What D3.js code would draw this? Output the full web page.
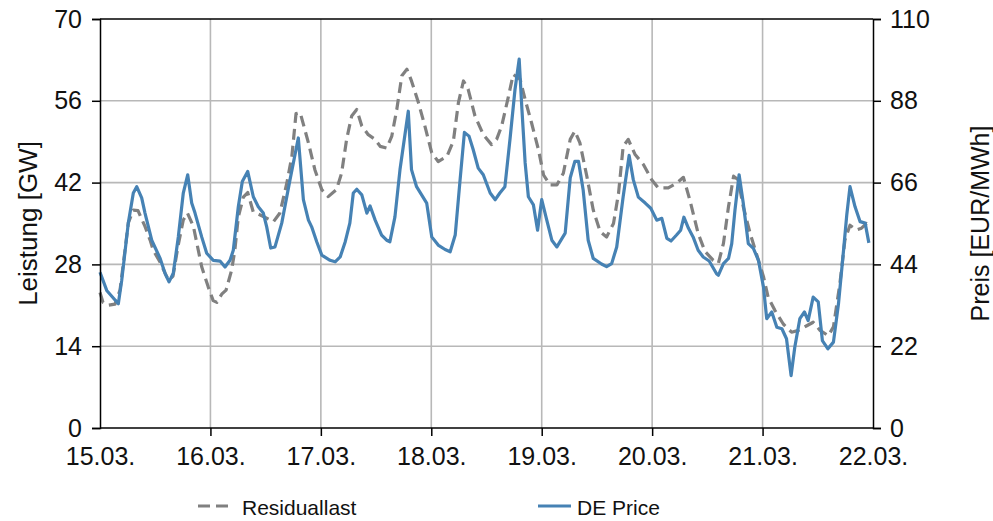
<!DOCTYPE html>
<html><head><meta charset="utf-8">
<script src="https://cdn.jsdelivr.net/npm/d3@7"></script>
<style>body{margin:0;background:#fff}svg{display:block}text{font-family:"Liberation Sans",Arial,sans-serif;fill:#111}</style>
</head><body>
<svg id="c" width="993" height="521"></svg>
<script>
// hours since 15.03. 00:00
const resHours = [0,0.65,1.8,3.26,4.35,5.43,6.15,7.24,8.26,9.78,10.87,11.59,13.04,14.5,15,15.87,16.95,18.1,19,20.3,22.1,23.5,24.6,25.4,26.45,27.4,28.6,29.3,30.06,31.15,32.1,33.3,35.5,37.7,39.1,40.6,41.7,42.6,43.5,45.3,46.7,48.2,49.6,51.4,52.5,53.6,54.7,55.8,56.9,58.3,59.8,60.9,62.3,63.4,64.5,65.6,66.7,67.7,69.2,70.6,72.1,73.5,75.4,76.8,77.9,79,80,81.5,83.3,85.1,86.2,87.3,88.7,89.8,91.3,92.4,93.8,95.3,96.4,97.8,99.3,100.7,102.2,103.2,104.3,105.8,107.2,108.7,110.1,111.6,112.7,113.7,114.8,116.3,118.1,119.9,121.3,123.5,125.3,126.8,128.2,130,131.5,133.3,134.4,135.5,136.6,137.7,138.7,139.8,141.3,143.1,144.2,145.2,146.7,148.5,150.3,151.8,153.6,155,156.5,158.3,159.4,160.8,161.9,163,164.4,165.5,166.6,167.4];
const residuallast = [23.2,21.5,21.0,21.2,23.6,30.4,35.1,37.3,37.2,34.5,32.2,30.4,28.4,25.9,25.3,26.0,31.1,35.6,36.8,34.5,27.6,24.2,21.8,21.5,22.9,23.6,27.0,30.4,36.1,39.5,40.3,37.0,36.2,35.3,36.8,41.9,46.5,53.8,54.0,48.8,44.2,40.8,39.6,40.8,43.6,49.4,53.4,54.5,51.7,50.2,49.4,48.2,47.9,49.9,54.5,60.3,61.4,59.4,55.7,51.7,47.1,45.6,46.5,49.1,55.7,59.4,58.0,53.4,50.2,48.5,49.4,51.7,56.5,60.5,59.7,56.2,52.2,47.6,43.3,41.6,41.6,43.6,49.4,50.8,48.8,43.1,37.3,33.6,32.7,35.0,40.2,48.2,49.4,46.8,45.1,42.5,41.1,41.1,41.9,42.9,39.0,33.3,30.2,28.7,28.2,31.6,37.9,43.1,42.5,37.9,33.3,28.7,25.9,22.4,20.1,17.8,16.4,16.7,17.5,18.1,16.7,15.8,17.3,24.7,32.2,34.7,33.9,34.2,35.0,34.5];
const priceHours = [0,1.46,3.98,4.72,6.15,7.24,7.98,9.06,9.78,11.24,13.04,14.13,15,15.93,17.02,18.1,19.06,19.93,20.65,22.1,23.19,24.62,26.08,27.17,28.26,28.97,30.06,30.93,32.1,33.32,34.4,35.49,36.23,37.1,38.03,39.5,41.3,43.1,44.2,45.3,46,47.1,48.2,50,51.1,52.2,53.3,54.3,55.05,55.8,56.9,58,58.7,59.8,61.2,62.3,63,64.1,65.2,67,67.7,68.8,69.9,71,72.1,73.5,75,76.1,77.2,78.2,79.2,80.2,81.1,82.2,83.3,84.8,85.9,86.9,88,89.1,90.2,91.1,91.7,92.4,93.1,94.2,95.1,96,97.1,98.2,99.3,101.1,102.2,103.2,104,105,106.1,107.2,109,110.1,111.2,112.3,113.7,115,115.9,117,118.5,119.7,121,122.1,123.2,124.1,125.3,126.2,126.9,127.9,128.9,130,131.1,132.4,134,134.4,135.5,136.6,137.3,138,138.9,139.8,140.9,142,143.1,144.2,144.9,146,147.1,148.2,149.2,150.2,151,152.1,153.1,153.9,155,156.1,157,158.2,159.4,160.5,161.6,162.3,163,164.1,165.2,166.3,167.1];
const dePrice = [41.9,37.0,33.4,39.7,55.1,63.2,64.9,61.9,57.8,50.5,45.7,41.6,39.3,41.6,51.4,63.2,68.1,60.5,57.8,51.4,47.0,45.1,44.9,43.3,45.1,47.8,59.5,66.3,69.0,62.2,59.5,57.8,54.1,48.4,48.7,55.1,66.8,78.0,61.4,55.9,54.1,50.1,46.5,45.1,44.7,46.0,50.1,55.1,63.2,64.2,62.7,57.8,59.7,55.9,51.9,50.5,50.1,56.8,69.5,85.2,69.5,64.9,62.7,60.5,51.4,49.2,48.0,47.4,51.9,65.9,79.5,78.5,74.9,69.9,68.1,63.2,61.4,63.2,64.9,77.6,91.1,99.2,85.7,71.3,62.2,60.0,53.2,61.4,55.9,50.5,48.7,52.4,67.3,71.7,71.7,64.1,50.5,45.6,44.1,43.4,44.2,48.7,62.2,73.3,66.8,62.1,60.5,59.1,55.9,56.4,51.0,50.3,51.9,53.2,56.7,53.7,51.4,47.8,46.0,44.9,41.5,41.1,44.2,45.6,49.6,58.6,68.1,60.5,49.6,48.3,45.1,37.9,29.4,31.2,27.1,26.7,24.0,14.1,21.7,29.4,31.2,28.9,35.2,33.9,23.5,21.3,23.1,33.4,47.8,57.3,64.9,59.5,55.5,55.1,49.8];
const dayLabels = ["15.03.","16.03.","17.03.","18.03.","19.03.","20.03.","21.03.","22.03."];
const leftTicks = [0,14,28,42,56,70];
const rightTicks = [0,22,44,66,88,110];

const L=100, R=873, T=19, B=428;
const svg = d3.select("#c");
const x = d3.scaleLinear().domain([0,168]).range([L,R]);
const yL = d3.scaleLinear().domain([0,70]).range([B,T]);
const yR = d3.scaleLinear().domain([0,110]).range([B,T]);

// grid
const g = svg.append("g");
g.selectAll("line.h").data(leftTicks.slice(1,5)).join("line")
 .attr("x1",L).attr("x2",R).attr("y1",d=>yL(d)).attr("y2",d=>yL(d))
 .attr("stroke","#b8b8b8").attr("stroke-width",1.6);
g.selectAll("line.v").data(dayLabels.slice(1,7)).join("line")
 .attr("x1",(d,i)=>x((i+1)*24)).attr("x2",(d,i)=>x((i+1)*24)).attr("y1",T).attr("y2",B)
 .attr("stroke","#b8b8b8").attr("stroke-width",1.6);

// lines
svg.append("path").datum(resHours.map((h,i)=>[h,residuallast[i]]))
 .attr("fill","none").attr("stroke","#808080").attr("stroke-width",3.2)
 .attr("stroke-dasharray","11,6").attr("stroke-linejoin","round")
 .attr("d",d3.line().x(d=>x(d[0])).y(d=>yL(d[1])));
svg.append("path").datum(priceHours.map((h,i)=>[h,dePrice[i]]))
 .attr("fill","none").attr("stroke","#4682b4").attr("stroke-width",3.2).attr("stroke-linejoin","round")
 .attr("d",d3.line().x(d=>x(d[0])).y(d=>yR(d[1])));

// axes
const fs = "25px";
const ax = svg.append("g").attr("transform",`translate(${L},0)`)
 .call(d3.axisLeft(yL).tickValues(leftTicks).tickSize(8).tickPadding(10));
const ar = svg.append("g").attr("transform",`translate(${R},0)`)
 .call(d3.axisRight(yR).tickValues(rightTicks).tickSize(8).tickPadding(9));
const ab = svg.append("g").attr("transform",`translate(0,${B})`)
 .call(d3.axisBottom(x).tickValues(d3.range(0,169,24)).tickFormat((d,i)=>dayLabels[i]).tickSize(8).tickPadding(11));
[ax,ar,ab].forEach(a=>{
  a.select(".domain").attr("stroke","#000").attr("stroke-width",1.5);
  a.selectAll(".tick line").attr("stroke","#000").attr("stroke-width",1.5);
  a.selectAll("text").style("font-size",fs).attr("fill","#111");
});
ab.select(".domain").attr("d",`M${L},0H${R}`);
ab.selectAll(".tick line").filter((d,i)=>i===0||i===7).remove();
svg.append("line").attr("x1",L).attr("x2",R).attr("y1",T).attr("y2",T).attr("stroke","#000").attr("stroke-width",1.5);

svg.append("text").attr("transform",`translate(37,${(T+B)/2}) rotate(-90)`).attr("text-anchor","middle")
 .style("font-size","26px").text("Leistung [GW]");
svg.append("text").attr("transform",`translate(989,${(T+B)/2}) rotate(-90)`).attr("text-anchor","middle")
 .style("font-size","25px").text("Preis [EUR/MWh]");

// legend
const lg = svg.append("g");
lg.append("line").attr("x1",198).attr("x2",230).attr("y1",506).attr("y2",506)
 .attr("stroke","#808080").attr("stroke-width",3.2).attr("stroke-dasharray","12,6");
lg.append("text").attr("x",242).attr("y",515).style("font-size","21px").text("Residuallast");
lg.append("line").attr("x1",538).attr("x2",571).attr("y1",506).attr("y2",506)
 .attr("stroke","#4682b4").attr("stroke-width",3.2);
lg.append("text").attr("x",577).attr("y",515).style("font-size","21px").text("DE Price");
</script>
</body></html>
